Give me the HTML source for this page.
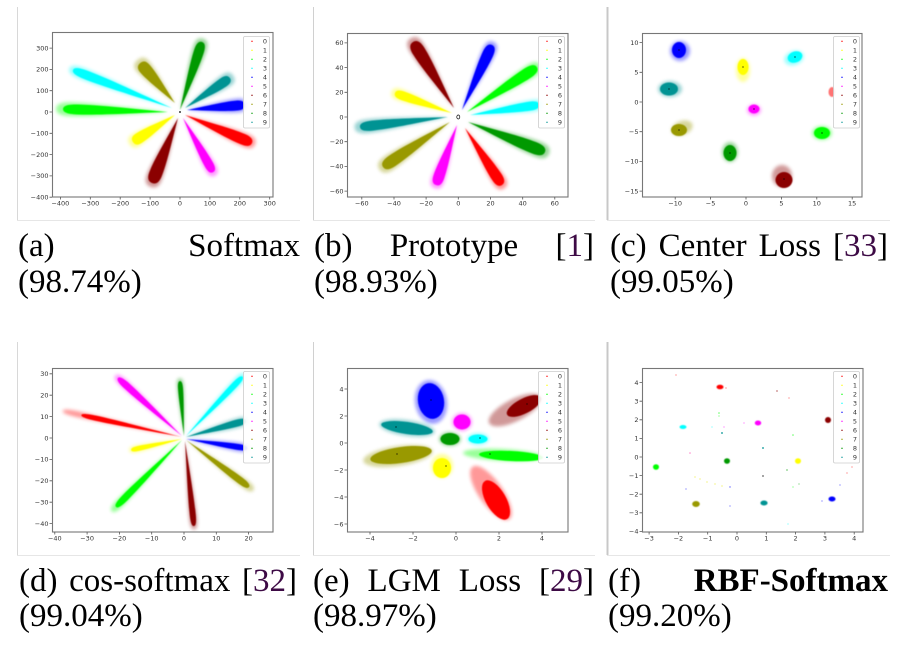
<!DOCTYPE html>
<html><head><meta charset="utf-8">
<style>
body{margin:0;width:905px;height:645px;background:#fff;overflow:hidden;position:relative;font-family:"Liberation Serif",serif;}
.cap{position:absolute;height:33px;line-height:33px;font-size:33px;color:#000;display:flex;justify-content:space-between;white-space:nowrap;}
.cite{color:#3d0a45}
svg{position:absolute;left:0;top:0}
svg text{font-family:"DejaVu Sans",sans-serif;font-size:6.5px;fill:#333}
.xl text{text-anchor:middle}
.yl text{text-anchor:end}
.lg text{text-anchor:middle}
</style></head><body>
<svg width="905" height="645" viewBox="0 0 905 645" xmlns="http://www.w3.org/2000/svg">
<defs>
<path id="p" d="M0,0 C0.35,-0.45 0.65,-1 0.86,-1 C0.97,-1 1,-0.55 1,0 C1,0.55 0.97,1 0.86,1 C0.65,1 0.35,0.45 0,0Z"/>
<filter id="b1" x="-30%" y="-30%" width="160%" height="160%"><feGaussianBlur stdDeviation="1.8"/></filter>
<filter id="b0" x="-30%" y="-30%" width="160%" height="160%"><feGaussianBlur stdDeviation="0.45"/></filter>
<clipPath id="cA"><rect x="52" y="32" width="221" height="165"/></clipPath>
<clipPath id="cB"><rect x="347" y="33" width="221" height="164"/></clipPath>
<clipPath id="cC"><rect x="642" y="33" width="220" height="164"/></clipPath>
<clipPath id="cD"><rect x="52" y="368" width="221" height="164"/></clipPath>
<clipPath id="cE"><rect x="347" y="368" width="221" height="164"/></clipPath>
<clipPath id="cF"><rect x="642" y="368" width="221" height="164"/></clipPath>
</defs>

<!-- panel borders -->
<g stroke-width="1">
<line x1="17.5" y1="7" x2="17.5" y2="220" stroke="#d8d8d8"/>
<line x1="17" y1="220.5" x2="300" y2="220.5" stroke="#e6e6e6"/>
<line x1="313.5" y1="7" x2="313.5" y2="220" stroke="#d0d0d0"/>
<line x1="313" y1="220.5" x2="595" y2="220.5" stroke="#e6e6e6"/>
<line x1="607.5" y1="7" x2="607.5" y2="220" stroke="#c8c8c8" stroke-width="2"/>
<line x1="607" y1="220.5" x2="890" y2="220.5" stroke="#e6e6e6"/>
<line x1="17.5" y1="342" x2="17.5" y2="555" stroke="#d8d8d8"/>
<line x1="17" y1="555.5" x2="300" y2="555.5" stroke="#e6e6e6"/>
<line x1="313.5" y1="342" x2="313.5" y2="555" stroke="#d0d0d0"/>
<line x1="313" y1="555.5" x2="595" y2="555.5" stroke="#e6e6e6"/>
<line x1="607.5" y1="342" x2="607.5" y2="555" stroke="#c8c8c8" stroke-width="2"/>
<line x1="607" y1="555.5" x2="890" y2="555.5" stroke="#e6e6e6"/>
</g>

<!-- ============ Panel A ============ -->
<g clip-path="url(#cA)">
<g opacity="0.4" filter="url(#b1)">
<use href="#p" transform="translate(180,110) rotate(-72.1) scale(75,7)" fill="#009900"/>
<use href="#p" transform="translate(175,103) rotate(-131.2) scale(57,8)" fill="#999900"/>
<use href="#p" transform="translate(172,108) rotate(-159) scale(110,6)" fill="#00ffff"/>
<use href="#p" transform="translate(168,112) rotate(-178.4) scale(112,7)" fill="#00ff00"/>
<use href="#p" transform="translate(185,108) rotate(-33.7) scale(58,7)" fill="#009393"/>
<use href="#p" transform="translate(187,110) rotate(-5.1) scale(60,7)" fill="#0000ff"/>
<use href="#p" transform="translate(185,115) rotate(22.7) scale(76,7)" fill="#ff0000"/>
<use href="#p" transform="translate(183,118) rotate(60.9) scale(66,6)" fill="#ff00ff"/>
<use href="#p" transform="translate(178,118) rotate(111.8) scale(74,8)" fill="#8b0000"/>
<use href="#p" transform="translate(175,115) rotate(147.3) scale(54,7)" fill="#ffff00"/>
</g>
<g filter="url(#b0)">
<use href="#p" transform="translate(180,110) rotate(-72.1) scale(71.5,5)" fill="#009900"/>
<use href="#p" transform="translate(175,103) rotate(-131.2) scale(53,6)" fill="#999900"/>
<use href="#p" transform="translate(172,108) rotate(-159) scale(106,4.5)" fill="#00ffff"/>
<use href="#p" transform="translate(168,112) rotate(-178.4) scale(105,5)" fill="#00ff00"/>
<use href="#p" transform="translate(185,108) rotate(-33.7) scale(54,5)" fill="#009393"/>
<use href="#p" transform="translate(187,110) rotate(-5.1) scale(58,5)" fill="#0000ff"/>
<use href="#p" transform="translate(185,115) rotate(22.7) scale(72.6,5.5)" fill="#ff0000"/>
<use href="#p" transform="translate(183,118) rotate(60.9) scale(62,4.5)" fill="#ff00ff"/>
<use href="#p" transform="translate(178,118) rotate(111.8) scale(70,6.5)" fill="#8b0000"/>
<use href="#p" transform="translate(175,115) rotate(147.3) scale(50,5.5)" fill="#ffff00"/>
</g>
<circle cx="180" cy="112" r="0.9" fill="#000"/>
</g>
<rect x="52.5" y="32.5" width="220.5" height="164.5" fill="none" stroke="#777" stroke-width="1.1"/>
<path d="M60.4,197v2.5M90.3,197v2.5M120.2,197v2.5M150.1,197v2.5M180,197v2.5M209.9,197v2.5M239.8,197v2.5M269.7,197v2.5M52,48.1h-2.5M52,69.4h-2.5M52,90.7h-2.5M52,112h-2.5M52,133.3h-2.5M52,154.6h-2.5M52,175.9h-2.5M52,197.2h-2.5" stroke="#555" stroke-width="0.8"/>
<g class="xl"><text x="60.4" y="205.5">−400</text><text x="90.3" y="205.5">−300</text><text x="120.2" y="205.5">−200</text><text x="150.1" y="205.5">−100</text><text x="180" y="205.5">0</text><text x="209.9" y="205.5">100</text><text x="239.8" y="205.5">200</text><text x="269.7" y="205.5">300</text></g>
<g class="yl"><text x="48.5" y="50.4">300</text><text x="48.5" y="71.7">200</text><text x="48.5" y="93">100</text><text x="48.5" y="114.3">0</text><text x="48.5" y="135.6">−100</text><text x="48.5" y="156.9">−200</text><text x="48.5" y="178.2">−300</text><text x="48.5" y="199.5">−400</text></g>

<!-- ============ Panel B ============ -->
<g clip-path="url(#cB)">
<g opacity="0.4" filter="url(#b1)">
<use href="#p" transform="translate(454,108) rotate(-121.8) scale(82,8)" fill="#8b0000"/>
<use href="#p" transform="translate(462,110) rotate(-65.2) scale(75,7)" fill="#0000ff"/>
<use href="#p" transform="translate(467,112) rotate(-32.7) scale(87,7)" fill="#00ff00"/>
<use href="#p" transform="translate(470,115) rotate(-8.4) scale(74,6)" fill="#00ffff"/>
<use href="#p" transform="translate(468,122) rotate(21.3) scale(87,8)" fill="#009900"/>
<use href="#p" transform="translate(465,128) rotate(57) scale(72,7)" fill="#ff0000"/>
<use href="#p" transform="translate(457,125) rotate(109.3) scale(67,7)" fill="#ff00ff"/>
<use href="#p" transform="translate(450,122) rotate(146.1) scale(85,8)" fill="#999900"/>
<use href="#p" transform="translate(448,117) rotate(173.5) scale(94,7)" fill="#009393"/>
<use href="#p" transform="translate(452,113) rotate(-160.7) scale(64,6)" fill="#ffff00"/>
</g>
<g filter="url(#b0)">
<use href="#p" transform="translate(454,108) rotate(-121.8) scale(77.7,6.5)" fill="#8b0000"/>
<use href="#p" transform="translate(462,110) rotate(-65.2) scale(71.6,5.5)" fill="#0000ff"/>
<use href="#p" transform="translate(467,112) rotate(-32.7) scale(83,5.5)" fill="#00ff00"/>
<use href="#p" transform="translate(470,115) rotate(-8.4) scale(70,4.5)" fill="#00ffff"/>
<use href="#p" transform="translate(468,122) rotate(21.3) scale(82.6,6)" fill="#009900"/>
<use href="#p" transform="translate(465,128) rotate(57) scale(68,5.5)" fill="#ff0000"/>
<use href="#p" transform="translate(457,125) rotate(109.3) scale(63.6,5.5)" fill="#ff00ff"/>
<use href="#p" transform="translate(450,122) rotate(146.1) scale(80.7,6)" fill="#999900"/>
<use href="#p" transform="translate(448,117) rotate(173.5) scale(88.6,5)" fill="#009393"/>
<use href="#p" transform="translate(452,113) rotate(-160.7) scale(60.4,4.5)" fill="#ffff00"/>
</g>
<ellipse cx="458.3" cy="117" rx="1.5" ry="2" fill="none" stroke="#000" stroke-width="0.7"/>
</g>
<rect x="347.5" y="33.5" width="220.5" height="163.5" fill="none" stroke="#777" stroke-width="1.1"/>
<path d="M361.8,197v2.5M394,197v2.5M426.1,197v2.5M458.3,197v2.5M490.5,197v2.5M522.7,197v2.5M554.8,197v2.5M347,42.9h-2.5M347,67.6h-2.5M347,92.3h-2.5M347,117h-2.5M347,141.7h-2.5M347,166.4h-2.5M347,191.1h-2.5" stroke="#555" stroke-width="0.8"/>
<g class="xl"><text x="361.8" y="205.5">−60</text><text x="394" y="205.5">−40</text><text x="426.1" y="205.5">−20</text><text x="458.3" y="205.5">0</text><text x="490.5" y="205.5">20</text><text x="522.7" y="205.5">40</text><text x="554.8" y="205.5">60</text></g>
<g class="yl"><text x="343.5" y="45.2">60</text><text x="343.5" y="69.9">40</text><text x="343.5" y="94.6">20</text><text x="343.5" y="119.3">0</text><text x="343.5" y="144">−20</text><text x="343.5" y="168.7">−40</text><text x="343.5" y="193.4">−60</text></g>

<!-- ============ Panel C ============ -->
<g clip-path="url(#cC)">
<g opacity="0.4" filter="url(#b1)">
<ellipse cx="680" cy="51" rx="10" ry="10" fill="#0000ff"/>
<ellipse cx="794" cy="58" rx="10" ry="7" transform="rotate(-20 794 58)" fill="#00ffff"/>
<ellipse cx="743" cy="70" rx="7" ry="12" fill="#ffff00"/>
<ellipse cx="670" cy="89" rx="12" ry="8" fill="#009393"/>
<ellipse cx="754" cy="110" rx="7" ry="5.5" fill="#ff00ff"/>
<ellipse cx="682" cy="128" rx="11" ry="7" transform="rotate(-20 682 128)" fill="#999900"/>
<ellipse cx="822" cy="133" rx="10" ry="7" fill="#00ff00"/>
<ellipse cx="730" cy="152" rx="8" ry="10" fill="#009900"/>
<ellipse cx="782" cy="176" rx="10" ry="11" fill="#8b0000"/>
</g>
<g filter="url(#b0)">
<ellipse cx="679" cy="50" rx="7" ry="8" fill="#0000ff"/>
<ellipse cx="795" cy="57" rx="7.5" ry="5.5" transform="rotate(-20 795 57)" fill="#00ffff"/>
<ellipse cx="743" cy="67" rx="5.5" ry="8" fill="#ffff00"/>
<ellipse cx="669" cy="89" rx="9" ry="6.5" fill="#009393"/>
<ellipse cx="832" cy="92" rx="3.5" ry="5" fill="#ff0000" opacity="0.55"/>
<ellipse cx="754" cy="109" rx="5.5" ry="4.5" fill="#ff00ff"/>
<ellipse cx="679" cy="130" rx="8" ry="6" fill="#999900"/>
<ellipse cx="822" cy="133" rx="8" ry="6" fill="#00ff00"/>
<ellipse cx="730" cy="153" rx="6.5" ry="8" fill="#009900"/>
<ellipse cx="784" cy="180" rx="8.5" ry="8" fill="#8b0000"/>
</g>
<g fill="#000"><circle cx="679" cy="50" r="0.6"/><circle cx="795" cy="57" r="0.6"/><circle cx="743" cy="67" r="0.6"/><circle cx="669" cy="89" r="0.6"/><circle cx="754" cy="109" r="0.6"/><circle cx="679" cy="130" r="0.6"/><circle cx="822" cy="133" r="0.6"/><circle cx="730" cy="153" r="0.6"/><circle cx="784" cy="179" r="0.6"/></g>
</g>
<rect x="642.5" y="33.5" width="219.5" height="163.5" fill="none" stroke="#777" stroke-width="1.1"/>
<path d="M675.2,197v2.5M710.6,197v2.5M746,197v2.5M781.4,197v2.5M816.8,197v2.5M852.2,197v2.5M642,42.6h-2.5M642,72.3h-2.5M642,102h-2.5M642,131.7h-2.5M642,161.4h-2.5M642,191.1h-2.5" stroke="#555" stroke-width="0.8"/>
<g class="xl"><text x="675.2" y="205.5">−10</text><text x="710.6" y="205.5">−5</text><text x="746" y="205.5">0</text><text x="781.4" y="205.5">5</text><text x="816.8" y="205.5">10</text><text x="852.2" y="205.5">15</text></g>
<g class="yl"><text x="638.5" y="44.9">10</text><text x="638.5" y="74.6">5</text><text x="638.5" y="104.3">0</text><text x="638.5" y="134">−5</text><text x="638.5" y="163.7">−10</text><text x="638.5" y="193.4">−15</text></g>

<!-- ============ Panel D ============ -->
<g clip-path="url(#cD)">
<g opacity="0.4" filter="url(#b1)">
<use href="#p" transform="translate(184,436) rotate(-94.2) scale(58,3.5)" fill="#009900"/>
<use href="#p" transform="translate(186,436) rotate(-46.4) scale(86,4.5)" fill="#00ffff"/>
<use href="#p" transform="translate(186,437) rotate(-15.2) scale(64,5)" fill="#009393"/>
<use href="#p" transform="translate(186,439) rotate(8.7) scale(64,4.5)" fill="#0000ff"/>
<use href="#p" transform="translate(186,440) rotate(36.7) scale(84,4.5)" fill="#999900"/>
<use href="#p" transform="translate(185,441) rotate(84) scale(89,4)" fill="#8b0000"/>
<use href="#p" transform="translate(182,440) rotate(134.6) scale(100,4.5)" fill="#00ff00"/>
<use href="#p" transform="translate(182,439) rotate(167.8) scale(54,3.5)" fill="#ffff00"/>
<use href="#p" transform="translate(182,437) rotate(-167.7) scale(122,3)" fill="#ff0000"/>
<use href="#p" transform="translate(182,436) rotate(-137.8) scale(90,4.5)" fill="#ff00ff"/>
</g>
<g filter="url(#b0)">
<use href="#p" transform="translate(184,436) rotate(-94.2) scale(55,2.5)" fill="#009900"/>
<use href="#p" transform="translate(186,436) rotate(-46.4) scale(82,3)" fill="#00ffff"/>
<use href="#p" transform="translate(186,437) rotate(-15.2) scale(62,3.5)" fill="#009393"/>
<use href="#p" transform="translate(186,439) rotate(8.7) scale(62,3)" fill="#0000ff"/>
<use href="#p" transform="translate(186,440) rotate(36.7) scale(78.6,3.5)" fill="#999900"/>
<use href="#p" transform="translate(185,441) rotate(84) scale(85.5,3)" fill="#8b0000"/>
<use href="#p" transform="translate(182,440) rotate(134.6) scale(94,3.5)" fill="#00ff00"/>
<use href="#p" transform="translate(182,439) rotate(167.8) scale(52,2.5)" fill="#ffff00"/>
<use href="#p" transform="translate(182,437) rotate(-167.7) scale(103,2.5)" fill="#ff0000"/>
<use href="#p" transform="translate(182,436) rotate(-137.8) scale(86.4,3.5)" fill="#ff00ff"/>
</g>
</g>
<rect x="52.5" y="368.5" width="220.5" height="163.5" fill="none" stroke="#777" stroke-width="1.1"/>
<path d="M54.8,532v2.5M87.1,532v2.5M119.4,532v2.5M151.7,532v2.5M184,532v2.5M216.3,532v2.5M248.6,532v2.5M52,373.8h-2.5M52,395.2h-2.5M52,416.6h-2.5M52,438h-2.5M52,459.4h-2.5M52,480.8h-2.5M52,502.2h-2.5M52,523.6h-2.5" stroke="#555" stroke-width="0.8"/>
<g class="xl"><text x="54.8" y="540.5">−40</text><text x="87.1" y="540.5">−30</text><text x="119.4" y="540.5">−20</text><text x="151.7" y="540.5">−10</text><text x="184" y="540.5">0</text><text x="216.3" y="540.5">10</text><text x="248.6" y="540.5">20</text></g>
<g class="yl"><text x="48.5" y="376.1">30</text><text x="48.5" y="397.5">20</text><text x="48.5" y="418.9">10</text><text x="48.5" y="440.3">0</text><text x="48.5" y="461.7">−10</text><text x="48.5" y="483.1">−20</text><text x="48.5" y="504.5">−30</text><text x="48.5" y="525.9">−40</text></g>

<!-- ============ Panel E ============ -->
<g clip-path="url(#cE)">
<g opacity="0.4" filter="url(#b1)">
<ellipse cx="431" cy="402" rx="16" ry="22" transform="rotate(-10 431 402)" fill="#0000ff"/>
<ellipse cx="515" cy="410" rx="29" ry="11" transform="rotate(-27 515 410)" fill="#8b0000"/>
<ellipse cx="462" cy="422" rx="10" ry="9" fill="#ff00ff"/>
<ellipse cx="407" cy="428" rx="28" ry="8" transform="rotate(8 407 428)" fill="#009393"/>
<ellipse cx="450" cy="439" rx="11" ry="7" fill="#009900"/>
<ellipse cx="478" cy="439" rx="11" ry="6" fill="#00ffff"/>
<ellipse cx="398" cy="456" rx="35" ry="10" transform="rotate(-8 398 456)" fill="#999900"/>
<ellipse cx="503" cy="455" rx="40" ry="6" transform="rotate(3 503 455)" fill="#00ff00"/>
<ellipse cx="442" cy="466" rx="11" ry="12" fill="#ffff00"/>
<ellipse cx="491" cy="493" rx="32" ry="12" transform="rotate(55 491 493)" fill="#ff0000"/>
</g>
<g filter="url(#b0)">
<ellipse cx="431" cy="401" rx="13" ry="18" transform="rotate(-10 431 401)" fill="#0000ff"/>
<ellipse cx="524" cy="406" rx="19" ry="7.5" transform="rotate(-27 524 406)" fill="#8b0000"/>
<ellipse cx="462" cy="422" rx="8.5" ry="7.5" fill="#ff00ff"/>
<ellipse cx="407" cy="428" rx="26" ry="6" transform="rotate(8 407 428)" fill="#009393"/>
<ellipse cx="450" cy="439" rx="9.5" ry="6" fill="#009900"/>
<ellipse cx="478" cy="439" rx="9.5" ry="4.5" fill="#00ffff"/>
<ellipse cx="401" cy="455" rx="31" ry="8" transform="rotate(-8 401 455)" fill="#999900"/>
<ellipse cx="511" cy="456" rx="32" ry="5" transform="rotate(3 511 456)" fill="#00ff00"/>
<ellipse cx="442" cy="468" rx="9" ry="10" fill="#ffff00"/>
<ellipse cx="496" cy="500" rx="22" ry="10" transform="rotate(60 496 500)" fill="#ff0000"/>
</g>
<g fill="#000"><circle cx="431" cy="400" r="0.6"/><circle cx="527" cy="404" r="0.6"/><circle cx="396" cy="427" r="0.6"/><circle cx="397" cy="454" r="0.6"/><circle cx="446" cy="466" r="0.6"/><circle cx="490" cy="454" r="0.6"/><circle cx="480" cy="438" r="0.6"/></g>
</g>
<rect x="347.5" y="368.5" width="220.5" height="163.5" fill="none" stroke="#777" stroke-width="1.1"/>
<path d="M370,532v2.5M413,532v2.5M456,532v2.5M499,532v2.5M542,532v2.5M347,389h-2.5M347,416h-2.5M347,443h-2.5M347,470h-2.5M347,497h-2.5M347,524h-2.5" stroke="#555" stroke-width="0.8"/>
<g class="xl"><text x="370" y="540.5">−4</text><text x="413" y="540.5">−2</text><text x="456" y="540.5">0</text><text x="499" y="540.5">2</text><text x="542" y="540.5">4</text></g>
<g class="yl"><text x="343.5" y="391.3">4</text><text x="343.5" y="418.3">2</text><text x="343.5" y="445.3">0</text><text x="343.5" y="472.3">−2</text><text x="343.5" y="499.3">−4</text><text x="343.5" y="526.3">−6</text></g>

<!-- ============ Panel F ============ -->
<g clip-path="url(#cF)">
<g filter="url(#b0)">
<ellipse cx="720" cy="387" rx="3.5" ry="2.3" fill="#ff0000"/>
<ellipse cx="828" cy="420" rx="3" ry="3" fill="#8b0000"/>
<ellipse cx="758" cy="423" rx="3.2" ry="2.5" fill="#ff00ff"/>
<ellipse cx="683" cy="427" rx="3.5" ry="2" fill="#00ffff"/>
<ellipse cx="656" cy="467" rx="3" ry="2.8" fill="#00ff00"/>
<ellipse cx="727" cy="461" rx="3" ry="2.8" fill="#009900"/>
<ellipse cx="798" cy="461" rx="3" ry="2.8" fill="#ffff00"/>
<ellipse cx="696" cy="504" rx="3.8" ry="3" fill="#999900"/>
<ellipse cx="764" cy="503" rx="3.6" ry="2.5" fill="#009393"/>
<ellipse cx="832" cy="499" rx="3.5" ry="2.5" fill="#0000ff"/>
</g>
<g>
<circle cx="676" cy="375" r="0.6" fill="#ff6666"/><circle cx="726" cy="388" r="0.6" fill="#ff6666"/><circle cx="777" cy="391" r="0.6" fill="#8b0000"/><circle cx="789" cy="398" r="0.6" fill="#ff6666"/>
<circle cx="719" cy="413" r="0.8" fill="#66ff66"/><circle cx="719" cy="416" r="0.6" fill="#66ff66"/><circle cx="712" cy="427" r="0.6" fill="#66ffff"/><circle cx="744" cy="423" r="0.6" fill="#ff66ff"/><circle cx="724" cy="427" r="0.6" fill="#ff66ff"/>
<circle cx="722" cy="433" r="0.9" fill="#009393"/><circle cx="763" cy="448" r="0.9" fill="#009393"/><circle cx="793" cy="435" r="0.8" fill="#66ff66"/><circle cx="690" cy="453" r="0.8" fill="#ff88cc"/>
<circle cx="763" cy="476" r="1" fill="#888"/><circle cx="695" cy="477" r="0.6" fill="#eeee44"/><circle cx="700" cy="479" r="0.6" fill="#eeee44"/><circle cx="707" cy="482" r="0.6" fill="#eeee44"/><circle cx="715" cy="484" r="0.6" fill="#eeee44"/><circle cx="722" cy="486" r="0.6" fill="#eeee44"/><circle cx="730" cy="487" r="0.7" fill="#6666ff"/>
<circle cx="686" cy="489" r="0.6" fill="#6666ff"/><circle cx="793" cy="487" r="0.6" fill="#66ff66"/><circle cx="852" cy="467" r="0.6" fill="#ff6666"/><circle cx="847" cy="473" r="0.6" fill="#ff6666"/><circle cx="840" cy="485" r="0.6" fill="#6666ff"/>
<circle cx="822" cy="501" r="0.6" fill="#6666ff"/><circle cx="730" cy="506" r="0.6" fill="#6666ff"/><circle cx="788" cy="524" r="0.6" fill="#66ffff"/><circle cx="799" cy="484" r="0.6" fill="#66cc66"/><circle cx="787" cy="470" r="0.6" fill="#009900"/>
</g>
</g>
<rect x="642.5" y="368.5" width="220.5" height="163.5" fill="none" stroke="#777" stroke-width="1.1"/>
<path d="M649.1,532v2.5M678.4,532v2.5M707.7,532v2.5M737,532v2.5M766.3,532v2.5M795.6,532v2.5M824.9,532v2.5M854.2,532v2.5M642,382.6h-2.5M642,401.2h-2.5M642,419.8h-2.5M642,438.4h-2.5M642,457h-2.5M642,475.6h-2.5M642,494.2h-2.5M642,512.8h-2.5M642,531.4h-2.5" stroke="#555" stroke-width="0.8"/>
<g class="xl"><text x="649.1" y="540.5">−3</text><text x="678.4" y="540.5">−2</text><text x="707.7" y="540.5">−1</text><text x="737" y="540.5">0</text><text x="766.3" y="540.5">1</text><text x="795.6" y="540.5">2</text><text x="824.9" y="540.5">3</text><text x="854.2" y="540.5">4</text></g>
<g class="yl"><text x="638.5" y="384.9">4</text><text x="638.5" y="403.5">3</text><text x="638.5" y="422.1">2</text><text x="638.5" y="440.7">1</text><text x="638.5" y="459.3">0</text><text x="638.5" y="477.9">−1</text><text x="638.5" y="496.5">−2</text><text x="638.5" y="515.1">−3</text><text x="638.5" y="533.7">−4</text></g>

<!-- ============ Legends ============ -->
<g class="lg" transform="translate(243,36)">
<rect x="0.5" y="0.5" width="26" height="91.5" rx="1.5" fill="#fff" fill-opacity="0.9" stroke="#ccc" stroke-width="0.8"/>
<circle cx="9" cy="5.3" r="0.7" fill="#ff0000"/><circle cx="9" cy="14.3" r="0.7" fill="#ffff00"/><circle cx="9" cy="23.3" r="0.7" fill="#00ff00"/><circle cx="9" cy="32.3" r="0.7" fill="#00ffff"/><circle cx="9" cy="41.3" r="0.7" fill="#0000ff"/><circle cx="9" cy="50.3" r="0.7" fill="#ff00ff"/><circle cx="9" cy="59.3" r="0.7" fill="#8b0000"/><circle cx="9" cy="68.3" r="0.7" fill="#999900"/><circle cx="9" cy="77.3" r="0.7" fill="#009900"/><circle cx="9" cy="86.3" r="0.7" fill="#009393"/>
<text x="22" y="7.6">0</text><text x="22" y="16.6">1</text><text x="22" y="25.6">2</text><text x="22" y="34.6">3</text><text x="22" y="43.6">4</text><text x="22" y="52.6">5</text><text x="22" y="61.6">6</text><text x="22" y="70.6">7</text><text x="22" y="79.6">8</text><text x="22" y="88.6">9</text>
</g>
<g class="lg" transform="translate(538,36)">
<rect x="0.5" y="0.5" width="26" height="91.5" rx="1.5" fill="#fff" fill-opacity="0.9" stroke="#ccc" stroke-width="0.8"/>
<circle cx="9" cy="5.3" r="0.7" fill="#ff0000"/><circle cx="9" cy="14.3" r="0.7" fill="#ffff00"/><circle cx="9" cy="23.3" r="0.7" fill="#00ff00"/><circle cx="9" cy="32.3" r="0.7" fill="#00ffff"/><circle cx="9" cy="41.3" r="0.7" fill="#0000ff"/><circle cx="9" cy="50.3" r="0.7" fill="#ff00ff"/><circle cx="9" cy="59.3" r="0.7" fill="#8b0000"/><circle cx="9" cy="68.3" r="0.7" fill="#999900"/><circle cx="9" cy="77.3" r="0.7" fill="#009900"/><circle cx="9" cy="86.3" r="0.7" fill="#009393"/>
<text x="22" y="7.6">0</text><text x="22" y="16.6">1</text><text x="22" y="25.6">2</text><text x="22" y="34.6">3</text><text x="22" y="43.6">4</text><text x="22" y="52.6">5</text><text x="22" y="61.6">6</text><text x="22" y="70.6">7</text><text x="22" y="79.6">8</text><text x="22" y="88.6">9</text>
</g>
<g class="lg" transform="translate(833,36)">
<rect x="0.5" y="0.5" width="26" height="91.5" rx="1.5" fill="#fff" fill-opacity="0.9" stroke="#ccc" stroke-width="0.8"/>
<circle cx="9" cy="5.3" r="0.7" fill="#ff0000"/><circle cx="9" cy="14.3" r="0.7" fill="#ffff00"/><circle cx="9" cy="23.3" r="0.7" fill="#00ff00"/><circle cx="9" cy="32.3" r="0.7" fill="#00ffff"/><circle cx="9" cy="41.3" r="0.7" fill="#0000ff"/><circle cx="9" cy="50.3" r="0.7" fill="#ff00ff"/><circle cx="9" cy="59.3" r="0.7" fill="#8b0000"/><circle cx="9" cy="68.3" r="0.7" fill="#999900"/><circle cx="9" cy="77.3" r="0.7" fill="#009900"/><circle cx="9" cy="86.3" r="0.7" fill="#009393"/>
<text x="22" y="7.6">0</text><text x="22" y="16.6">1</text><text x="22" y="25.6">2</text><text x="22" y="34.6">3</text><text x="22" y="43.6">4</text><text x="22" y="52.6">5</text><text x="22" y="61.6">6</text><text x="22" y="70.6">7</text><text x="22" y="79.6">8</text><text x="22" y="88.6">9</text>
</g>
<g class="lg" transform="translate(243,371)">
<rect x="0.5" y="0.5" width="26" height="91.5" rx="1.5" fill="#fff" fill-opacity="0.9" stroke="#ccc" stroke-width="0.8"/>
<circle cx="9" cy="5.3" r="0.7" fill="#ff0000"/><circle cx="9" cy="14.3" r="0.7" fill="#ffff00"/><circle cx="9" cy="23.3" r="0.7" fill="#00ff00"/><circle cx="9" cy="32.3" r="0.7" fill="#00ffff"/><circle cx="9" cy="41.3" r="0.7" fill="#0000ff"/><circle cx="9" cy="50.3" r="0.7" fill="#ff00ff"/><circle cx="9" cy="59.3" r="0.7" fill="#8b0000"/><circle cx="9" cy="68.3" r="0.7" fill="#999900"/><circle cx="9" cy="77.3" r="0.7" fill="#009900"/><circle cx="9" cy="86.3" r="0.7" fill="#009393"/>
<text x="22" y="7.6">0</text><text x="22" y="16.6">1</text><text x="22" y="25.6">2</text><text x="22" y="34.6">3</text><text x="22" y="43.6">4</text><text x="22" y="52.6">5</text><text x="22" y="61.6">6</text><text x="22" y="70.6">7</text><text x="22" y="79.6">8</text><text x="22" y="88.6">9</text>
</g>
<g class="lg" transform="translate(538,371)">
<rect x="0.5" y="0.5" width="26" height="91.5" rx="1.5" fill="#fff" fill-opacity="0.9" stroke="#ccc" stroke-width="0.8"/>
<circle cx="9" cy="5.3" r="0.7" fill="#ff0000"/><circle cx="9" cy="14.3" r="0.7" fill="#ffff00"/><circle cx="9" cy="23.3" r="0.7" fill="#00ff00"/><circle cx="9" cy="32.3" r="0.7" fill="#00ffff"/><circle cx="9" cy="41.3" r="0.7" fill="#0000ff"/><circle cx="9" cy="50.3" r="0.7" fill="#ff00ff"/><circle cx="9" cy="59.3" r="0.7" fill="#8b0000"/><circle cx="9" cy="68.3" r="0.7" fill="#999900"/><circle cx="9" cy="77.3" r="0.7" fill="#009900"/><circle cx="9" cy="86.3" r="0.7" fill="#009393"/>
<text x="22" y="7.6">0</text><text x="22" y="16.6">1</text><text x="22" y="25.6">2</text><text x="22" y="34.6">3</text><text x="22" y="43.6">4</text><text x="22" y="52.6">5</text><text x="22" y="61.6">6</text><text x="22" y="70.6">7</text><text x="22" y="79.6">8</text><text x="22" y="88.6">9</text>
</g>
<g class="lg" transform="translate(833,371)">
<rect x="0.5" y="0.5" width="26" height="91.5" rx="1.5" fill="#fff" fill-opacity="0.9" stroke="#ccc" stroke-width="0.8"/>
<circle cx="9" cy="5.3" r="0.7" fill="#ff0000"/><circle cx="9" cy="14.3" r="0.7" fill="#ffff00"/><circle cx="9" cy="23.3" r="0.7" fill="#00ff00"/><circle cx="9" cy="32.3" r="0.7" fill="#00ffff"/><circle cx="9" cy="41.3" r="0.7" fill="#0000ff"/><circle cx="9" cy="50.3" r="0.7" fill="#ff00ff"/><circle cx="9" cy="59.3" r="0.7" fill="#8b0000"/><circle cx="9" cy="68.3" r="0.7" fill="#999900"/><circle cx="9" cy="77.3" r="0.7" fill="#009900"/><circle cx="9" cy="86.3" r="0.7" fill="#009393"/>
<text x="22" y="7.6">0</text><text x="22" y="16.6">1</text><text x="22" y="25.6">2</text><text x="22" y="34.6">3</text><text x="22" y="43.6">4</text><text x="22" y="52.6">5</text><text x="22" y="61.6">6</text><text x="22" y="70.6">7</text><text x="22" y="79.6">8</text><text x="22" y="88.6">9</text>
</g>
</svg>

<!-- Captions -->
<div class="cap" style="left:18px;top:230px;width:282px"><span>(a)</span><span>Softmax</span></div>
<div class="cap" style="left:18px;top:266px">(98.74%)</div>
<div class="cap" style="left:314px;top:230px;width:280px"><span>(b)</span><span>Prototype</span><span>[<span class="cite">1</span>]</span></div>
<div class="cap" style="left:314px;top:266px">(98.93%)</div>
<div class="cap" style="left:610px;top:230px;width:278px"><span>(c)</span><span>Center</span><span>Loss</span><span>[<span class="cite">33</span>]</span></div>
<div class="cap" style="left:610px;top:266px">(99.05%)</div>

<div class="cap" style="left:19px;top:565px;width:278px"><span>(d)</span><span>cos-softmax</span><span>[<span class="cite">32</span>]</span></div>
<div class="cap" style="left:19px;top:600px">(99.04%)</div>
<div class="cap" style="left:313px;top:565px;width:281px"><span>(e)</span><span>LGM</span><span>Loss</span><span>[<span class="cite">29</span>]</span></div>
<div class="cap" style="left:313px;top:600px">(98.97%)</div>
<div class="cap" style="left:608px;top:565px;width:280px"><span>(f)</span><span style="font-weight:bold">RBF-Softmax</span></div>
<div class="cap" style="left:608px;top:600px">(99.20%)</div>
</body></html>
